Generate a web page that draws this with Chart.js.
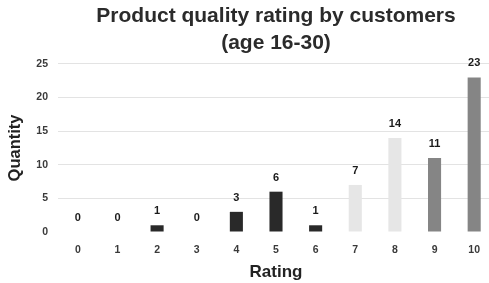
<!DOCTYPE html>
<html>
<head>
<meta charset="utf-8">
<script src="https://cdn.jsdelivr.net/npm/chart.js@4"></script>
<style>
  html, body { margin: 0; padding: 0; background: #fff; overflow: hidden; }
  canvas { display: block; }
</style>
</head>
<body>
<canvas id="ratingChart" width="500" height="283"></canvas>
<script>
// --- Data ---
const ratings = ['0', '1', '2', '3', '4', '5', '6', '7', '8', '9', '10'];
const quantities = [0, 0, 1, 0, 3, 6, 1, 7, 14, 11, 23];
const barColors = [
    '#292929', '#292929', '#292929', '#292929', '#292929', '#292929', '#292929', // 0-6 detractors
    '#e6e6e6', '#e6e6e6',                                                         // 7-8 passives
    '#858585', '#858585'                                                          // 9-10 promoters
];
const titleLines = ['Product quality rating by customers', '(age 16-30)'];

const FONT = "'Liberation Sans', Arial, sans-serif";

// value labels above bars
const valueLabels = {
    id: 'valueLabels',
    afterDatasetsDraw(chart) {
        const ctx = chart.ctx;
        const meta = chart.getDatasetMeta(0);
        ctx.save();
        ctx.font = 'bold 11px ' + FONT;
        ctx.fillStyle = '#1a1a1a';
        ctx.textAlign = 'center';
        ctx.textBaseline = 'middle';
        meta.data.forEach((bar, i) => {
            ctx.fillText(String(quantities[i]), bar.x, bar.y - 14);
        });
        ctx.restore();
    }
};

const ctx = document.getElementById('ratingChart').getContext('2d');
new Chart(ctx, {
    type: 'bar',
    data: {
        labels: ratings,
        datasets: [{
            data: quantities,
            backgroundColor: barColors,
            borderWidth: 0,
            barPercentage: 0.33,
            categoryPercentage: 1
        }]
    },
    options: {
        responsive: false,
        animation: false,
        layout: { padding: { left: 0, right: 6, top: 0, bottom: 0 } },
        plugins: {
            legend: { display: false },
            tooltip: { enabled: false },
            title: {
                display: true,
                fullSize: false,
                text: titleLines,
                color: '#2b2b2b',
                font: { family: FONT, size: 21, weight: 'bold', lineHeight: 1.2857 },
                padding: { top: 3, bottom: 7 }
            }
        },
        scales: {
            x: {
                grid: { display: false, drawTicks: false },
                border: { display: false },
                ticks: {
                    color: '#3a3a3a',
                    font: { family: FONT, size: 10.5, weight: 'bold' },
                    padding: 12
                },
                title: {
                    display: true,
                    text: 'Rating',
                    color: '#222',
                    font: { family: FONT, size: 17, weight: 'bold' },
                    padding: { top: 0, bottom: 0 }
                },
                afterFit(scale) { scale.height = 51; }
            },
            y: {
                min: 0,
                max: 25,
                ticks: {
                    stepSize: 5,
                    color: '#3a3a3a',
                    font: { family: FONT, size: 10.5, weight: 'bold' },
                    padding: 10
                },
                grid: {
                    drawTicks: false,
                    color: (c) => c.tick && c.tick.value === 0 ? 'rgba(0,0,0,0)' : '#e3e3e3'
                },
                border: { display: false },
                title: {
                    display: true,
                    text: 'Quantity',
                    color: '#222',
                    font: { family: FONT, size: 16.5, weight: 'bold' },
                    padding: { top: 6, bottom: 0 }
                },
                afterFit(scale) { scale.width = 58; }
            }
        }
    },
    plugins: [valueLabels]
});
</script>
</body>
</html>
